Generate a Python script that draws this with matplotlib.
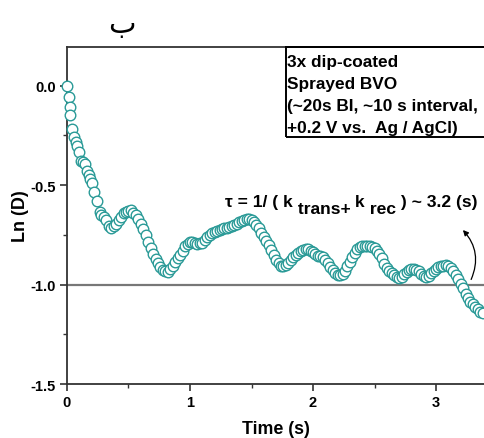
import matplotlib
matplotlib.use("Agg")
import matplotlib.pyplot as plt
from matplotlib.patches import Rectangle
from matplotlib.ticker import MultipleLocator

plt.rcParams["font.family"] = ["Liberation Sans", "DejaVu Sans"]
plt.rcParams["axes.unicode_minus"] = False

# time (s) and Ln(D)
time = [0.0, 0.016, 0.022, 0.027, 0.043, 0.059, 0.071, 0.081, 0.098, 0.114,
        0.13, 0.146, 0.160, 0.175, 0.187, 0.203, 0.222, 0.244, 0.268,
        0.28, 0.30, 0.32, 0.34, 0.36, 0.38, 0.40, 0.42, 0.44, 0.46,
        0.48, 0.50, 0.52, 0.54, 0.56, 0.58, 0.60, 0.62, 0.64, 0.66,
        0.68, 0.70, 0.72, 0.74, 0.76, 0.78, 0.80, 0.82, 0.84, 0.86,
        0.88, 0.90, 0.92, 0.94, 0.96, 0.98, 1.00, 1.02, 1.04, 1.06,
        1.08, 1.10, 1.12, 1.14, 1.16, 1.18, 1.20, 1.22, 1.24, 1.26,
        1.28, 1.30, 1.32, 1.34, 1.36, 1.38, 1.40, 1.42, 1.44, 1.46,
        1.48, 1.50, 1.52, 1.54, 1.56, 1.58, 1.60, 1.62, 1.64, 1.66,
        1.68, 1.70, 1.72, 1.74, 1.76, 1.78, 1.80, 1.82, 1.84, 1.86,
        1.88, 1.90, 1.92, 1.94, 1.96, 1.98, 2.00, 2.02, 2.04, 2.06,
        2.08, 2.10, 2.12, 2.14, 2.16, 2.18, 2.20, 2.22, 2.24, 2.26,
        2.28, 2.30, 2.32, 2.34, 2.36, 2.38, 2.40, 2.42, 2.44, 2.46,
        2.48, 2.50, 2.52, 2.54, 2.56, 2.58, 2.60, 2.62, 2.64, 2.66,
        2.68, 2.70, 2.72, 2.74, 2.76, 2.78, 2.80, 2.82, 2.84, 2.86,
        2.88, 2.90, 2.92, 2.94, 2.96, 2.98, 3.00, 3.02, 3.04, 3.06,
        3.08, 3.10, 3.12, 3.14, 3.16, 3.18, 3.20, 3.22, 3.24, 3.26,
        3.28, 3.30, 3.32, 3.34, 3.36, 3.38]
ln_d = [0.0, -0.055, -0.106, -0.149, -0.216, -0.256, -0.281, -0.302, -0.332, -0.377,
        -0.385, -0.392, -0.427, -0.45, -0.467, -0.487, -0.533, -0.578, -0.633,
        -0.648, -0.662, -0.676, -0.705, -0.716, -0.707, -0.697, -0.675, -0.658, -0.642,
        -0.635, -0.630, -0.627, -0.640, -0.652, -0.668, -0.694, -0.720, -0.752, -0.784,
        -0.818, -0.845, -0.870, -0.890, -0.912, -0.925, -0.932, -0.935, -0.922, -0.906,
        -0.884, -0.866, -0.852, -0.830, -0.808, -0.795, -0.784, -0.788, -0.792, -0.795,
        -0.793, -0.792, -0.775, -0.762, -0.753, -0.743, -0.735, -0.731, -0.726, -0.720,
        -0.717, -0.713, -0.709, -0.704, -0.700, -0.694, -0.686, -0.680, -0.676, -0.670,
        -0.668, -0.674, -0.684, -0.700, -0.716, -0.740, -0.762, -0.782, -0.800, -0.824,
        -0.850, -0.878, -0.893, -0.907, -0.908, -0.900, -0.892, -0.876, -0.862, -0.850,
        -0.840, -0.831, -0.826, -0.820, -0.822, -0.829, -0.837, -0.848, -0.855, -0.857,
        -0.862, -0.878, -0.893, -0.912, -0.928, -0.942, -0.954, -0.952, -0.946, -0.930,
        -0.908, -0.884, -0.860, -0.840, -0.822, -0.812, -0.806, -0.804, -0.805, -0.806,
        -0.809, -0.818, -0.829, -0.848, -0.868, -0.894, -0.918, -0.930, -0.942, -0.950,
        -0.960, -0.968, -0.960, -0.948, -0.938, -0.928, -0.920, -0.923, -0.928, -0.934,
        -0.948, -0.956, -0.960, -0.958, -0.944, -0.934, -0.924, -0.914, -0.908, -0.905,
        -0.904, -0.908, -0.918, -0.932, -0.950, -0.970, -0.995, -1.015, -1.045, -1.068,
        -1.088, -1.100, -1.112, -1.124, -1.136, -1.145]

x_ticks = [0, 1, 2, 3]
y_ticks = [0.0, -0.5, -1.0, -1.5]
y_tick_labels = ["0.0", "-0.5", "-1.0", "-1.5"]
info_lines = ["3x dip-coated", "Sprayed BVO", "(~20s BI, ~10 s interval,",
              "+0.2 V vs.  Ag / AgCl)"]

fig = plt.figure(figsize=(4.84, 4.39), dpi=100)
ax = fig.add_axes([0.1384, 0.123, 0.8616, 0.7677])

ax.axhline(-1.0, color="#777777", lw=1.6, zorder=1)
ax.plot(time, ln_d, "o", ms=7.6, mfc="white", mec="#2a9a97", mew=1.0,
        ls="none", zorder=3, clip_on=False)

ax.set_xlim(0, 3.39)
ax.set_ylim(-1.5, 0.195)
ax.set_xticks(x_ticks)
ax.set_yticks(y_ticks)
ax.set_yticklabels(y_tick_labels)
ax.xaxis.set_minor_locator(MultipleLocator(0.5))
ax.yaxis.set_minor_locator(MultipleLocator(0.25))
ax.tick_params(which="major", direction="out", length=5, width=1.2, color="#333333",
               labelsize=10.5, pad=3)
ax.tick_params(which="minor", direction="out", length=3, width=1.0, color="#333333")
for lab in ax.get_xticklabels() + ax.get_yticklabels():
    lab.set_fontweight("bold")

for side in ["left", "bottom", "top"]:
    ax.spines[side].set_color("#333333")
    ax.spines[side].set_linewidth(1.3)
ax.spines["right"].set_visible(False)

ax.set_xlabel("Time (s)", fontsize=12.8, fontweight="bold", labelpad=8)
ax.set_ylabel("Ln (D)", fontsize=13, fontweight="bold", labelpad=1)

# info box in the top right corner
ax.add_patch(Rectangle((0.525, 0.733), 0.5, 0.267, transform=ax.transAxes,
                       fill=False, ec="black", lw=1.4, clip_on=False, zorder=5))
for i, line in enumerate(info_lines):
    ax.text(0.528, 0.958 - i * 0.0653, line, transform=ax.transAxes,
            fontsize=12.4, fontweight="bold", va="center", ha="left")

# tau annotation, built piece by piece with lowered subscripts
t0 = ax.text(225 / 484, 1 - 207 / 439, "\u03c4 = 1/ ( k", transform=fig.transFigure,
             fontsize=12.6, fontweight="bold", va="baseline")
pieces = [(" trans+", -7), (" k", 7), (" rec", -7), (" ) ~ 3.2 (s)", 7)]
prev = t0
for txt, dy in pieces:
    prev = ax.annotate(txt, xy=(1, 0), xycoords=prev, xytext=(0, dy),
                       textcoords="offset pixels", fontsize=12.6, fontweight="bold",
                       va="bottom", annotation_clip=False)

ax.annotate("", xy=(461 / 484, 1 - 229 / 439), xycoords="figure fraction",
            xytext=(470 / 484, 1 - 283 / 439), textcoords="figure fraction",
            arrowprops=dict(arrowstyle="-|>", color="black", lw=0.9,
                            connectionstyle="arc3,rad=0.35", mutation_scale=8))

fig.text(122 / 484, 1 - 25 / 439, "\u0628", fontsize=21, ha="center", va="center",
         family=["DejaVu Sans"])

fig.savefig("out.png", dpi=100)
